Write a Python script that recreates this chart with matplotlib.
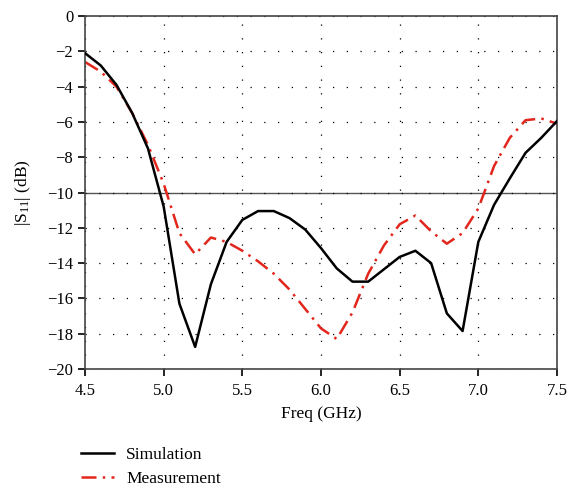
import matplotlib
matplotlib.use("Agg")
import matplotlib.pyplot as plt
from matplotlib.ticker import MultipleLocator, FormatStrFormatter

plt.rcParams['font.family'] = ['Liberation Serif', 'DejaVu Serif']
plt.rcParams['mathtext.default'] = 'regular'

freq = [4.5, 4.6, 4.7, 4.8, 4.9, 5.0, 5.1, 5.2, 5.3, 5.4, 5.5, 5.6, 5.7, 5.8, 5.9, 6.0,
        6.1, 6.2, 6.3, 6.4, 6.5, 6.6, 6.7, 6.8, 6.9, 7.0, 7.1, 7.2, 7.3, 7.4, 7.5]
simulation = [-2.1, -2.8, -3.9, -5.5, -7.5, -10.8, -16.3, -18.75, -15.2, -12.8, -11.55, -11.05,
              -11.05, -11.45, -12.1, -13.15, -14.3, -15.05, -15.05, -14.35, -13.65, -13.3,
              -14.0, -16.85, -17.85, -12.8, -10.7, -9.2, -7.75, -6.9, -5.95]
measurement = [-2.6, -3.15, -4.0, -5.5, -7.3, -9.5, -12.3, -13.5, -12.55, -12.8, -13.3, -13.9,
               -14.6, -15.5, -16.6, -17.7, -18.3, -16.8, -14.6, -13.0, -11.8, -11.3, -12.2,
               -12.9, -12.3, -10.9, -8.5, -6.9, -5.9, -5.8, -6.1]

fig = plt.figure(figsize=(5.8, 4.88), dpi=100)
ax = fig.add_axes([0.1466, 0.2439, 0.8137, 0.7231])

ax.axhline(-10, color="#555555", lw=1.0, zorder=1)
ax.plot(freq, simulation, color="black", lw=1.8, label="Simulation", zorder=3)
ax.plot(freq, measurement, color="#e2261c", lw=1.8, linestyle=(0, (6, 2.5, 1, 2.5)),
        label="Measurement", zorder=2)

ax.set_xlim(4.5, 7.5)
ax.set_ylim(-20, 0)
ax.xaxis.set_major_locator(MultipleLocator(0.5))
ax.yaxis.set_major_locator(MultipleLocator(2))
ax.xaxis.set_major_formatter(FormatStrFormatter("%.1f"))
ax.yaxis.set_major_formatter(lambda v, p: ("%d" % v).replace("-", "\u2212"))
ax.grid(True, color="black", linestyle=(0, (1, 10)), lw=0.9)
ax.tick_params(direction="out", length=5, width=1.2, labelsize=12, colors="black")
ax.tick_params(axis="x", pad=5)
for s in ax.spines.values():
    s.set_color("#444444")
    s.set_linewidth(1.2)

ax.set_xlabel("Freq (GHz)", fontsize=12.5, labelpad=5)
ax.set_ylabel("|S$_{11}$| (dB)", fontsize=12.5, labelpad=10)

fig.legend(loc="upper left", bbox_to_anchor=(0.128, 0.098), frameon=False, fontsize=12.5,
           handlelength=1.9, handletextpad=0.7, labelspacing=0.45, borderaxespad=0)

fig.savefig("out.png", dpi=100)
